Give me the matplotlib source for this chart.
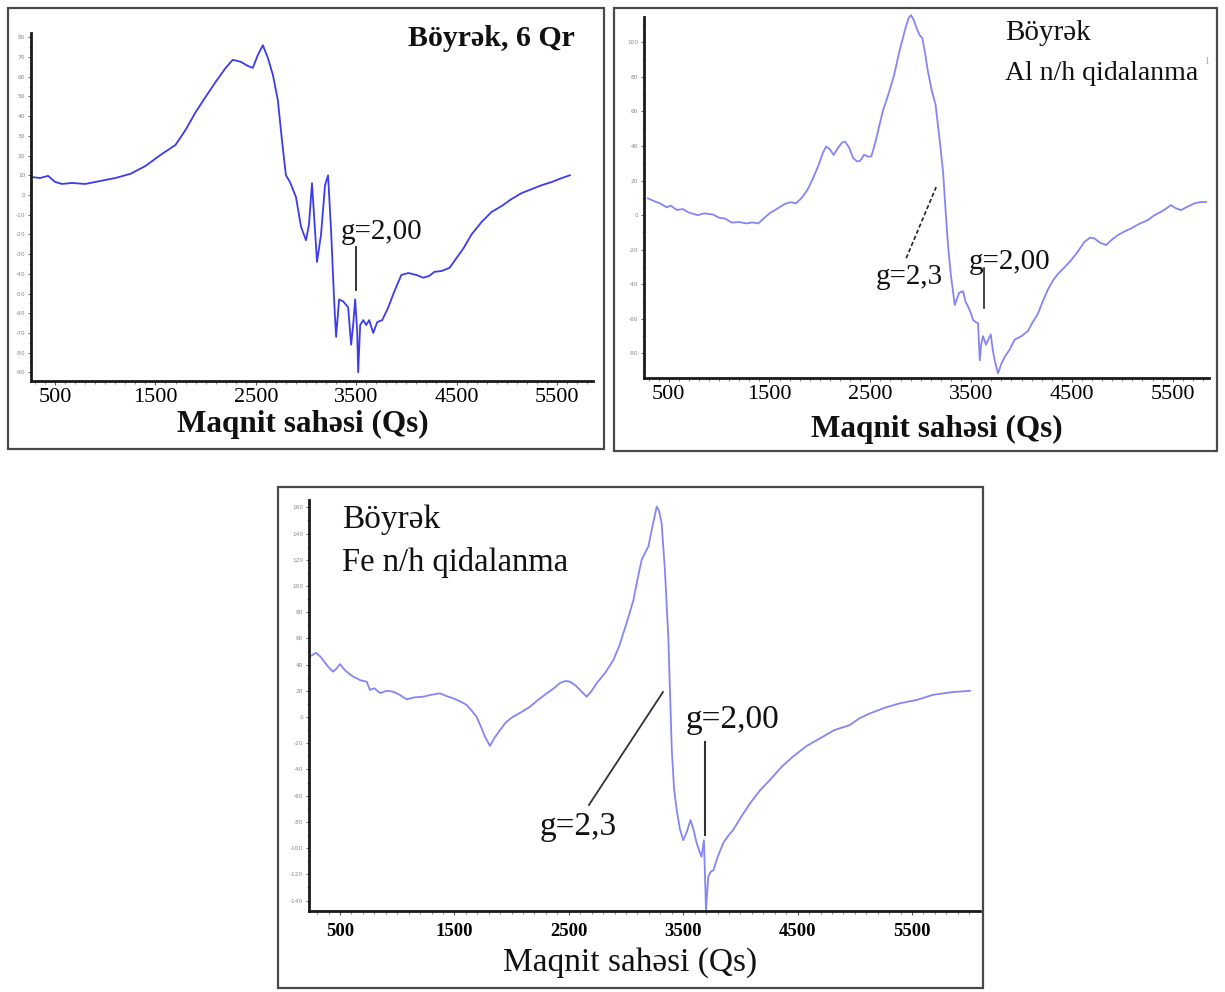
import matplotlib
matplotlib.use("Agg")
import matplotlib.pyplot as plt
from matplotlib.patches import Rectangle
from matplotlib.ticker import MultipleLocator, FixedLocator

# ---------------- data ----------------
x_ticks = [500, 1500, 2500, 3500, 4500, 5500]
x_tick_labels = ["500", "1500", "2500", "3500", "4500", "5500"]

# Panel 1: Böyrək, 6 Qr
x1 = [270, 350, 430, 500, 570, 670, 800, 950, 1100, 1250, 1400, 1550, 1700, 1800, 1900,
      2000, 2100, 2200, 2270, 2350, 2420, 2470, 2520, 2570, 2620, 2670, 2720, 2760, 2800,
      2840, 2900, 2950, 3000, 3030, 3060, 3090, 3110, 3150, 3190, 3220, 3250, 3280, 3300,
      3330, 3370, 3420, 3450, 3470, 3490, 3510, 3520, 3540, 3570, 3600, 3630, 3670, 3710,
      3760, 3820, 3880, 3950, 4020, 4100, 4170, 4230, 4280, 4350, 4430, 4500, 4570, 4650,
      4750, 4850, 4950, 5050, 5150, 5250, 5350, 5450, 5550, 5630]
y1 = [9.1, 8.6, 9.7, 6.6, 5.6, 6.1, 5.6, 7.1, 8.6, 10.7, 14.7, 20.3, 25.4, 33, 42,
      49.8, 57.4, 64.5, 68.6, 67.6, 65.5, 64.5, 71, 76, 69.6, 61, 48, 28, 10,
      6.6, -1, -16, -23, -15, 6, -18, -34, -20, 5, 10, -18, -53, -72,
      -53, -54, -57, -76, -66, -53, -69, -90, -66, -63.5, -66, -63.5, -70, -64.5,
      -63.5, -57, -49, -40.6, -39.6, -40.6, -42, -41, -39, -38.6, -37, -32, -27, -20,
      -13.7, -8.6, -5.6, -2, 1, 3, 5, 6.6, 8.6, 10]
y1_ticks = list(range(-90, 81, 10))

# Panel 2: Böyrək, Al n/h qidalanma
x2 = [294, 360, 414, 480, 520, 580, 639, 700, 788, 850, 938, 1000, 1060, 1125, 1200, 1275,
      1330, 1388, 1440, 1500, 1570, 1650, 1710, 1762, 1820, 1875, 1930, 1987, 2030, 2062,
      2100, 2137, 2180, 2220, 2250, 2290, 2330, 2370, 2400, 2440, 2474, 2510, 2550, 2623,
      2680, 2736, 2790, 2848, 2880, 2904, 2930, 2960, 2990, 3016, 3045, 3072, 3110, 3147,
      3185, 3222, 3250, 3272, 3300, 3338, 3380, 3420, 3445, 3470, 3500, 3520, 3550, 3569,
      3586, 3600, 3618, 3648, 3670, 3695, 3715, 3734, 3767, 3800, 3833, 3880, 3932, 4000,
      4064, 4110, 4163, 4210, 4262, 4310, 4361, 4430, 4493, 4560, 4625, 4680, 4724, 4780,
      4840, 4900, 4955, 5020, 5087, 5170, 5252, 5320, 5384, 5440, 5483, 5530, 5582, 5650,
      5714, 5770, 5830]
y2 = [9.7, 8, 6.8, 4.5, 5.5, 3, 3.5, 1.5, 0, 1, 0.4, -1.5, -2, -4.3, -4, -4.8,
      -4.2, -4.8, -2, 1, 3.5, 6.4, 7.5, 6.8, 10, 14.5, 21, 29, 36, 39.7,
      38, 34.8, 39, 42, 42.5, 39, 33, 31, 31.5, 35, 33.8, 34, 42, 60,
      70, 81, 95, 108, 114, 115.7, 113, 108, 104, 102.5, 93, 83, 72, 64,
      45, 25, 0, -18.3, -35, -52, -45, -44, -50, -53, -57, -60.7, -62, -62.6,
      -84, -75, -70, -75, -72, -69, -78, -84, -91.5, -86, -82, -78, -72, -70,
      -67, -62, -57, -50, -43, -38, -34, -30, -26, -21, -15.4, -13, -13.5, -16,
      -17.3, -14, -11.6, -9.5, -7.7, -5, -2.9, 0, 1.9, 4, 5.8, 4, 2.9, 5,
      6.8, 7.5, 7.7]
y2_ticks = list(range(-80, 101, 20))

# Panel 3: Böyrək, Fe n/h qidalanma
x3 = [253, 290, 330, 351, 400, 439, 470, 500, 540, 580, 616, 680, 733, 762, 800, 850, 910,
      966, 1020, 1083, 1150, 1227, 1300, 1374, 1430, 1490, 1550, 1607, 1650, 1694, 1730,
      1767, 1811, 1850, 1898, 1950, 2012, 2090, 2161, 2230, 2306, 2370, 2423, 2470, 2510,
      2560, 2598, 2656, 2700, 2743, 2820, 2889, 2940, 2976, 3020, 3064, 3100, 3137, 3170,
      3195, 3230, 3268, 3290, 3311, 3340, 3370, 3400, 3420, 3443, 3470, 3500, 3530, 3564,
      3590, 3617, 3640, 3660, 3681, 3699, 3719, 3740, 3763, 3800, 3850, 3890, 3938, 4000,
      4083, 4170, 4258, 4360, 4462, 4580, 4695, 4820, 4957, 5040, 5132, 5260, 5394, 5540,
      5686, 5850, 6006]
y3 = [47, 49, 46, 43.5, 38, 34.6, 37, 40.4, 36, 33, 30.8, 28, 27, 20.6, 22, 18.3, 20,
      19.3, 17, 13.5, 15, 15.5, 17, 18.1, 16, 14.3, 12, 9.2, 5, 0.2, -7,
      -15, -22, -16, -10, -4, 0.2, 4, 7.9, 13, 18, 22, 26, 27.5, 27,
      24, 20.6, 15.5, 20, 25.7, 34, 43.5, 54, 63.9, 76, 89, 105, 120, 126,
      130, 145, 160.5, 157, 148, 112, 60, -25, -55, -71, -85, -94, -88, -78.6,
      -86, -96, -102, -106.6, -94, -147, -122, -118, -117, -107, -96, -91, -86, -77,
      -66, -56, -48, -38, -30, -22, -16.3, -10, -6.1, -1, 2.8, 7, 10.5, 13,
      17, 19, 20]
y3_ticks = list(range(-140, 161, 20))

# ---------------- layout helpers ----------------
W, H = 1225, 992
SERIF = ["Liberation Serif", "DejaVu Serif"]
plt.rcParams["font.family"] = SERIF

fig = plt.figure(figsize=(W / 100, H / 100), dpi=100)
fig.patch.set_facecolor("white")


def rect(l, t, r, b):
    return [l / W, 1 - b / H, (r - l) / W, (b - t) / H]


def ftext(x, y, s, **kw):
    fig.text(x / W, 1 - y / H, s, **kw)


def frame(l, t, r, b):
    fig.patches.append(Rectangle((l / W, 1 - b / H), (r - l) / W, (b - t) / H,
                                 transform=fig.transFigure, fill=False,
                                 edgecolor="#4a4a4a", lw=1.6, zorder=0))


def style_axes(ax, xlim, ylim, yticks, yminor, xfs, xbold, xpad):
    ax.set_xlim(*xlim)
    ax.set_ylim(*ylim)
    for s in ["top", "right"]:
        ax.spines[s].set_visible(False)
    for s in ["left", "bottom"]:
        ax.spines[s].set_linewidth(2.0)
        ax.spines[s].set_color("#1a1a1a")
    ax.xaxis.set_major_locator(FixedLocator(x_ticks))
    ax.set_xticklabels(x_tick_labels, fontsize=xfs,
                       fontweight="bold" if xbold else "normal", family=SERIF)
    ax.xaxis.set_minor_locator(MultipleLocator(100))
    ax.yaxis.set_major_locator(FixedLocator(yticks))
    ax.set_yticklabels([str(v) for v in yticks], fontsize=4.2, color="#8a8a8a",
                       family="DejaVu Sans")
    ax.yaxis.set_minor_locator(MultipleLocator(yminor))
    ax.tick_params(axis="x", which="major", length=3, width=0.8, color="#555",
                   pad=xpad)
    ax.tick_params(axis="x", which="minor", length=2, width=0.6, color="#777")
    ax.tick_params(axis="y", which="major", length=2.5, width=0.7, color="#666",
                   pad=1.5)
    ax.tick_params(axis="y", which="minor", length=1.5, width=0.5, color="#888")
    ax.set_facecolor("white")


# ---------------- frames ----------------
frame(8, 8, 604, 449)
frame(614, 8, 1217, 451)
frame(278, 487, 983, 988)

# ---------------- Panel 1 ----------------
ax1 = fig.add_axes(rect(31, 33, 593, 381))
ax1.plot(x1, y1, color="#3c3cee", lw=1.3, clip_on=False)
style_axes(ax1, (260, 5860), (-94.4, 82.2), y1_ticks, 5, 16, False, 2)
ax1.plot([3500, 3500], [-26.4, -48.3], color="#222", lw=1.3)
ax1.text(3750, -18.8, "g=2,00", fontsize=21, ha="center", va="center",
         color="#111")
ftext(575, 38, "Böyrək, 6 Qr", fontsize=21.5, fontweight="bold", ha="right",
      va="center", color="#111")
ftext(303, 424, "Maqnit sahəsi (Qs)", fontsize=22.5, fontweight="bold",
      ha="center", va="center", color="#111")

# ---------------- Panel 2 ----------------
ax2 = fig.add_axes(rect(644, 17, 1209, 378))
ax2.plot(x2, y2, color="#8585f6", lw=1.3, clip_on=False)
style_axes(ax2, (255, 5860), (-94.2, 114.6), y2_ticks, 10, 16, False, 2)
ax2.plot([2856, 3153], [-24.9, 16.2], color="#222", lw=1.2, ls=(0, (2.5, 1.5)))
ax2.plot([3628, 3628], [-30.6, -53.8], color="#222", lw=1.2)
ax2.text(2886, -35.8, "g=2,3", fontsize=21, ha="center", va="center",
         color="#111")
ax2.text(3886, -27.2, "g=2,00", fontsize=21, ha="center", va="center",
         color="#111")
ftext(1005, 33, "Böyrək", fontsize=21, ha="left", va="center", color="#111")
ftext(1005, 73, "Al n/h qidalanma", fontsize=20, ha="left", va="center",
      color="#111")
ftext(1207, 62, "1", fontsize=7, ha="center", va="center", color="#7fb0ff")
ftext(937, 429, "Maqnit sahəsi (Qs)", fontsize=22.5, fontweight="bold",
      ha="center", va="center", color="#111")

# ---------------- Panel 3 ----------------
ax3 = fig.add_axes(rect(309, 500, 980, 911))
ax3.plot(x3, y3, color="#8585f6", lw=1.3, clip_on=False)
style_axes(ax3, (229, 6094), (-148, 165.6), y3_ticks, 10, 13.5, True, 6)
ax3.plot([2676, 3323], [-67.1, 19.1], color="#333", lw=1.3)
ax3.plot([3690, 3690], [-19, -90], color="#333", lw=1.5)
ax3.text(2580, -84, "g=2,3", fontsize=24, ha="center", va="center",
         color="#111")
ax3.text(3935, -2.3, "g=2,00", fontsize=24, ha="center", va="center",
         color="#111")
ftext(342, 520, "Böyrək", fontsize=24, ha="left", va="center", color="#111")
ftext(342, 562, "Fe n/h qidalanma", fontsize=23.5, ha="left", va="center",
      color="#111")
ftext(630, 963, "Maqnit sahəsi (Qs)", fontsize=24, ha="center", va="center",
      color="#111")

fig.savefig("out.png", dpi=100, facecolor="white")
